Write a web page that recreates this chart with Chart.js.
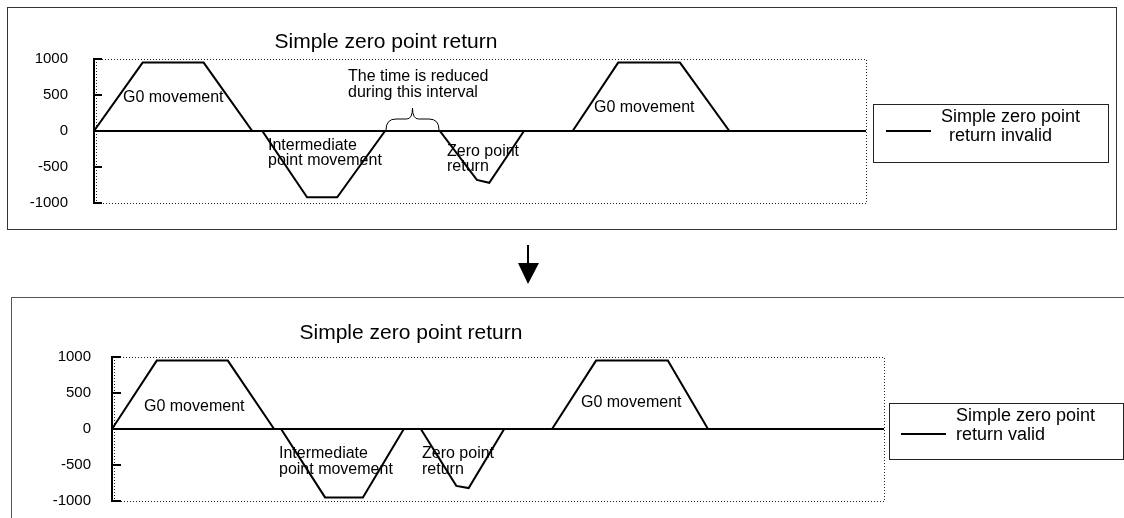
<!DOCTYPE html>
<html>
<head>
<meta charset="utf-8">
<script src="https://cdn.jsdelivr.net/npm/chart.js@4.4.1/dist/chart.umd.min.js"></script>
<style>
  html, body { margin:0; padding:0; background:#fff; }
  body { width:1124px; height:518px; overflow:hidden; position:relative; }
  canvas { position:absolute; left:0; }
  #c1 { top:0; }
  #c2 { top:280px; }
  #box1 { position:absolute; left:7px; top:7px; width:1110px; height:223px; box-sizing:border-box; border:1px solid #333; }
  #box2 { position:absolute; left:11px; top:297px; width:1113px; height:221px; box-sizing:border-box; border-top:1px solid #555; border-left:1px solid #555; }
  #arrow { position:absolute; left:510px; top:240px; }
</style>
</head>
<body>
<div id="box1"></div>
<div id="box2"></div>
<svg id="arrow" width="40" height="50" viewBox="0 0 40 50">
  <line x1="18" y1="5" x2="18" y2="25" stroke="#000" stroke-width="2"/>
  <polygon points="8,23 29,23 18,44" fill="#000"/>
</svg>
<canvas id="c1" width="1124" height="240"></canvas>
<canvas id="c2" width="1124" height="238"></canvas>
<script>
// ---- data (time in arbitrary units, position in pulses) ----
const yTickValues = [-1000, -500, 0, 500, 1000];
const yTickLabels = ['-1000', '-500', '0', '500', '1000'];

const timeInvalid = [0, 6.3, 14.2, 20.5, 21.8, 27.6, 31.5, 37.7, 44.8, 49.6, 51.2, 55.7, 62.0, 67.9, 75.9, 82.3, 100];
const posInvalid  = [0, 950, 950, 0, 0, -920, -920, 0, 0, -680, -720, 0, 0, 950, 950, 0, 0];

const timeValid = [0, 5.8, 15.0, 21.0, 21.9, 27.6, 32.5, 37.8, 40.0, 44.6, 46.2, 50.8, 57.0, 62.7, 72.0, 77.2, 100];
const posValid  = [0, 950, 950, 0, 0, -950, -950, 0, 0, -790, -820, 0, 0, 950, 950, 0, 0];

const chartTitle = 'Simple zero point return';
const legendInvalid = ['Simple zero point', 'return invalid'];
const legendValid = ['Simple zero point', 'return valid'];

const FONT = '"Liberation Sans", Arial, Helvetica, sans-serif';

const decor = {
  id: 'decor',
  beforeDatasetsDraw(chart) {
    const ctx = chart.ctx, a = chart.chartArea;
    ctx.save();
    ctx.strokeStyle = '#222';
    ctx.lineWidth = 1;
    ctx.setLineDash([1, 2]);
    ctx.beginPath();
    ctx.moveTo(a.left + 2, a.top + 0.5);
    ctx.lineTo(a.right + 0.5, a.top + 0.5);
    ctx.lineTo(a.right + 0.5, a.bottom + 0.5);
    ctx.lineTo(a.left + 2, a.bottom + 0.5);
    ctx.moveTo(a.left + 2.5, a.top);
    ctx.lineTo(a.left + 2.5, a.bottom);
    ctx.stroke();
    ctx.restore();
  },
  afterDraw(chart, args, o) {
    const ctx = chart.ctx, a = chart.chartArea, ys = chart.scales.y;
    ctx.save();
    // inward tick marks
    ctx.strokeStyle = '#000';
    ctx.lineWidth = 2;
    ys.ticks.forEach(t => {
      const py = Math.round(ys.getPixelForValue(t.value));
      ctx.beginPath();
      ctx.moveTo(a.left, py);
      ctx.lineTo(a.left + o.tickLen, py);
      ctx.stroke();
    });
    // texts
    ctx.fillStyle = '#000';
    ctx.textBaseline = 'middle';
    (o.texts || []).forEach(t => {
      ctx.font = t.size + 'px ' + FONT;
      ctx.textAlign = t.align || 'left';
      ctx.fillText(t.text, t.x, t.y);
    });
    // brace
    if (o.brace) {
      const b = o.brace;
      const mid = (b.x1 + b.x2) / 2;
      ctx.lineWidth = 1;
      ctx.strokeStyle = '#000';
      ctx.beginPath();
      ctx.moveTo(b.x1, b.yEnd);
      ctx.quadraticCurveTo(b.x1, b.yMid, b.x1 + 10, b.yMid);
      ctx.lineTo(mid - 6, b.yMid);
      ctx.quadraticCurveTo(mid, b.yMid, mid, b.yTip);
      ctx.quadraticCurveTo(mid, b.yMid, mid + 6, b.yMid);
      ctx.lineTo(b.x2 - 10, b.yMid);
      ctx.quadraticCurveTo(b.x2, b.yMid, b.x2, b.yEnd);
      ctx.stroke();
    }
    // legend box
    if (o.legend) {
      const L = o.legend;
      ctx.lineWidth = 1;
      ctx.strokeStyle = '#222';
      ctx.strokeRect(L.box[0] + 0.5, L.box[1] + 0.5, L.box[2], L.box[3]);
      ctx.lineWidth = 2;
      ctx.strokeStyle = chart.data.datasets[0].borderColor;
      ctx.beginPath();
      ctx.moveTo(L.line[0], L.line[2]);
      ctx.lineTo(L.line[1], L.line[2]);
      ctx.stroke();
      ctx.font = L.size + 'px ' + FONT;
      ctx.textAlign = 'left';
      L.lines.forEach((s, i) => ctx.fillText(s, L.pos[i][0], L.pos[i][1]));
    }
    ctx.restore();
  }
};

function makeChart(id, times, values, label, cfg) {
  return new Chart(document.getElementById(id), {
    type: 'line',
    data: {
      datasets: [{
        label: label,
        data: times.map((t, i) => ({ x: t, y: values[i] })),
        borderColor: '#000',
        borderWidth: 2,
        pointRadius: 0,
        tension: 0,
        fill: false
      }]
    },
    options: {
      responsive: false,
      animation: false,
      events: [],
      layout: { padding: cfg.padding },
      plugins: {
        legend: { display: false },
        title: { display: false },
        tooltip: { enabled: false },
        decor: cfg.decor
      },
      scales: {
        x: { type: 'linear', min: 0, max: 100, display: false },
        y: {
          min: -1000, max: 1000,
          afterBuildTicks: s => { s.ticks = yTickValues.map(v => ({ value: v })); },
          afterFit: s => { s.width = cfg.axisWidth; },
          ticks: {
            color: '#000',
            font: { family: FONT, size: 15 },
            padding: 0,
            callback: (v) => yTickLabels[yTickValues.indexOf(v)]
          },
          grid: {
            drawTicks: true,
            tickLength: cfg.tickPad,
            tickColor: 'rgba(0,0,0,0)',
            lineWidth: 2,
            color: c => (c.tick && c.tick.value === 0) ? '#000' : 'rgba(0,0,0,0)'
          },
          border: { display: true, color: '#000', width: 2 }
        }
      }
    },
    plugins: [decor]
  });
}

makeChart('c1', timeInvalid, posInvalid, legendInvalid.join(' '), {
  padding: { left: 0, top: 59, right: 1124 - 866, bottom: 240 - 203 },
  axisWidth: 94,
  tickPad: 26,
  decor: {
    tickLen: 8,
    texts: [
      { text: chartTitle, x: 386, y: 42, size: 21, align: 'center' },
      { text: 'G0 movement', x: 123, y: 98, size: 16 },
      { text: 'The time is reduced', x: 348, y: 77, size: 16 },
      { text: 'during this interval', x: 348, y: 93, size: 16 },
      { text: 'Intermediate', x: 268, y: 146, size: 16 },
      { text: 'point movement', x: 268, y: 161, size: 16 },
      { text: 'Zero point', x: 447, y: 152, size: 16 },
      { text: 'return', x: 447, y: 167, size: 16 },
      { text: 'G0 movement', x: 594, y: 108, size: 16 }
    ],
    brace: { x1: 386, x2: 439, yEnd: 130, yMid: 119, yTip: 108 },
    legend: {
      box: [873, 104, 235, 58],
      line: [886, 931, 131],
      size: 18,
      lines: legendInvalid,
      pos: [[941, 117], [949, 136]]
    }
  }
});

makeChart('c2', timeValid, posValid, legendValid.join(' '), {
  padding: { left: 18, top: 77, right: 1124 - 884, bottom: 238 - 221 },
  axisWidth: 94,
  tickPad: 21,
  decor: {
    tickLen: 9,
    texts: [
      { text: chartTitle, x: 411, y: 53, size: 21, align: 'center' },
      { text: 'G0 movement', x: 144, y: 127, size: 16 },
      { text: 'Intermediate', x: 279, y: 174, size: 16 },
      { text: 'point movement', x: 279, y: 190, size: 16 },
      { text: 'Zero point', x: 422, y: 174, size: 16 },
      { text: 'return', x: 422, y: 190, size: 16 },
      { text: 'G0 movement', x: 581, y: 123, size: 16 }
    ],
    legend: {
      box: [889, 123, 234, 56],
      line: [901, 946, 154],
      size: 18,
      lines: legendValid,
      pos: [[956, 136], [956, 155]]
    }
  }
});
</script>
</body>
</html>
